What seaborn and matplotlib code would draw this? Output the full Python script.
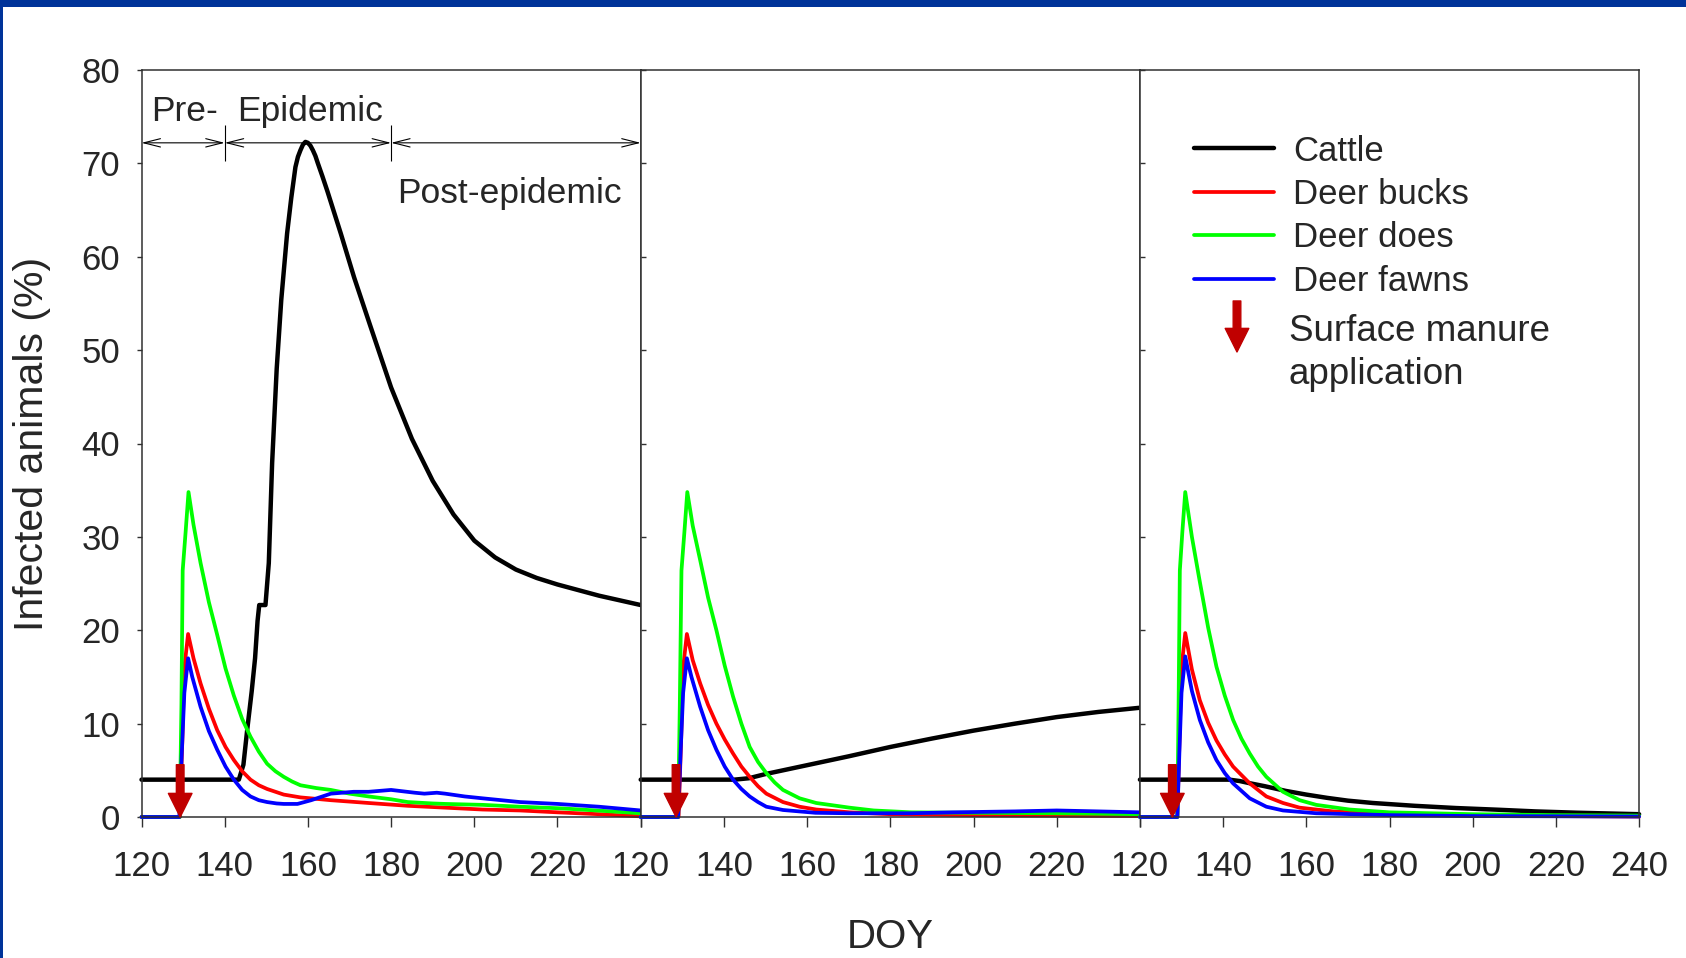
import matplotlib
matplotlib.use("Agg")
import matplotlib.pyplot as plt
from matplotlib.patches import Rectangle
import seaborn as sns

# ---- values: day of year vs % infected ----
# panel 1
cattle_1_doy = [120, 143.4, 144.5, 145.4, 146.5, 147.3, 147.9, 148.3, 149.8, 150.6, 151.4, 152.5, 153.6,
                155.0, 156.0, 157.0, 157.6, 158.2, 158.8, 159.4, 160.0, 160.6, 161.2, 161.8, 162.4,
                163.5, 164.7, 167.9, 171.1, 175, 180, 185, 190, 195, 200, 205, 210, 215, 220, 225, 230,
                235, 240]
cattle_1 = [4, 4, 5.6, 9.3, 13.5, 17, 21, 22.7, 22.7, 27.2, 37.9, 48, 55.4,
            62.5, 66.3, 69.6, 70.7, 71.4, 72.0, 72.3, 72.2, 71.9, 71.4, 70.8, 70.0,
            68.6, 67.0, 62.5, 57.8, 52.6, 46.0, 40.5, 36.0, 32.4, 29.6, 27.8, 26.5, 25.6, 24.9, 24.3, 23.7,
            23.2, 22.7]
bucks_1_doy = [120, 129.2, 129.8, 130.3, 131.2, 132.5, 134.2, 136.2, 138.2, 140.2, 142.2, 144.2, 146.2,
               148.2, 150.2, 154.2, 158.2, 165.5, 174.6, 184, 193, 202, 211, 220, 230, 240]
bucks_1 = [0, 0, 8, 16, 19.6, 17.0, 14.3, 11.6, 9.3, 7.5, 6.1, 4.9, 4.0,
           3.4, 3.0, 2.4, 2.1, 1.8, 1.5, 1.2, 1.0, 0.8, 0.7, 0.5, 0.3, 0.07]
does_1_doy = [120, 129.2, 129.6, 129.9, 130.6, 131.3, 132.5, 134.2, 136.2, 138.2, 140.2, 142.2, 144.2,
              146.2, 148.2, 150.2, 152.2, 154.2, 156.2, 158.2, 162, 165.5, 170, 174.6, 180, 184,
              190, 193, 202, 211, 220.7, 230, 240]
does_1 = [0, 0, 12, 26.4, 30.5, 34.8, 31.3, 27.2, 23.0, 19.5, 15.9, 13.0, 10.5,
          8.6, 7.0, 5.7, 4.9, 4.3, 3.8, 3.4, 3.1, 2.9, 2.5, 2.2, 1.9, 1.6,
          1.45, 1.4, 1.3, 1.1, 0.93, 0.68, 0.4]
fawns_1_doy = [120, 129.1, 129.7, 130.3, 131.2, 132.2, 134.2, 136.2, 138.2, 140.2, 142.2, 144.2, 146.2,
               148.2, 150.2, 152.5, 154.2, 157.5, 160.8, 165.5, 171, 174.6, 180, 185.7, 188, 191,
               193, 197.7, 202, 211, 220, 230, 240]
fawns_1 = [0, 0, 7, 13.3, 17.0, 15.0, 11.8, 9.2, 7.2, 5.4, 4.0, 2.9, 2.2,
           1.8, 1.6, 1.45, 1.4, 1.4, 1.8, 2.5, 2.7, 2.7, 2.9, 2.6, 2.5, 2.6,
           2.5, 2.2, 2.0, 1.6, 1.4, 1.1, 0.7]

# panel 2
cattle_2_doy = [120, 142.5, 146, 150, 160, 170, 180, 190, 200, 210, 220, 230, 240]
cattle_2 = [4, 4, 4.15, 4.6, 5.55, 6.5, 7.5, 8.4, 9.25, 10.0, 10.7, 11.25, 11.7]
bucks_2_doy = [120, 129.1, 129.7, 130.2, 131.1, 132.5, 134.3, 136.2, 138.2, 140.2, 142.2, 144.2,
               146.2, 148.2, 150.2, 154.2, 158.2, 162.2, 170.2, 180, 200, 220, 240]
bucks_2 = [0, 0, 8, 16, 19.6, 16.8, 14.3, 12.0, 10.0, 8.3, 6.8, 5.4,
           4.3, 3.3, 2.5, 1.6, 1.1, 0.8, 0.5, 0.3, 0.2, 0.15, 0.1]
does_2_doy = [120, 129.0, 129.4, 129.8, 130.5, 131.2, 132.5, 134.3, 136.2, 138.2, 140.2, 142.2, 144.2,
              146.2, 148.2, 150.2, 152.2, 154.2, 158.2, 162.2, 170.2, 176, 185, 200, 220, 240]
does_2 = [0, 0, 12, 26.4, 30.5, 34.8, 31.2, 27.5, 23.5, 20.0, 16.2, 12.9, 10.0,
          7.5, 5.9, 4.7, 3.7, 2.9, 2.0, 1.5, 1.0, 0.7, 0.5, 0.45, 0.4, 0.3]
fawns_2_doy = [120, 129.0, 129.6, 130.2, 131.1, 132.2, 134.3, 136.2, 138.2, 140.2, 142.2, 144.2,
               146.2, 148.2, 150.2, 154.2, 162, 170, 185, 195, 210, 220, 230, 240]
fawns_2 = [0, 0, 7, 13.3, 17.0, 15.0, 11.8, 9.3, 7.2, 5.4, 4.0, 3.0,
           2.2, 1.6, 1.1, 0.75, 0.45, 0.4, 0.4, 0.5, 0.6, 0.7, 0.6, 0.5]

# panel 3
cattle_3_doy = [120, 141.5, 144, 146.6, 150, 155, 160, 165, 170, 176, 186, 196, 206, 215, 225, 240]
cattle_3 = [4, 4, 3.85, 3.6, 3.3, 2.8, 2.4, 2.05, 1.75, 1.5, 1.2, 0.96, 0.78, 0.6, 0.46, 0.3]
bucks_3_doy = [120, 129.0, 129.5, 130.0, 130.9, 132.5, 134.4, 136.4, 138.4, 140.4, 142.4, 146.4,
               150.4, 154.4, 158.4, 166.4, 180, 200, 240]
bucks_3 = [0, 0, 8, 16, 19.7, 15.8, 12.5, 10.1, 8.2, 6.7, 5.4, 3.6,
           2.2, 1.5, 1.0, 0.6, 0.3, 0.15, 0.05]
does_3_doy = [120, 129.0, 129.3, 129.6, 130.2, 130.9, 132.5, 134.4, 136.4, 138.4, 140.4, 142.4,
              144.4, 146.4, 148.4, 150.4, 154.4, 158.4, 162.4, 170.4, 180, 200, 220, 240]
does_3 = [0, 0, 12, 26.4, 30.5, 34.8, 30.0, 25.2, 20.3, 16.1, 13.0, 10.4,
          8.4, 6.8, 5.4, 4.3, 2.7, 1.8, 1.3, 0.8, 0.5, 0.3, 0.2, 0.15]
fawns_3_doy = [120, 129.0, 129.5, 130.0, 130.9, 132.5, 134.4, 136.4, 138.4, 140.4, 142.4, 146.4,
               150.4, 154.4, 162.4, 180, 200, 240]
fawns_3 = [0, 0, 7, 13.3, 17.2, 13.5, 10.4, 8.0, 6.1, 4.7, 3.6, 2.0,
           1.1, 0.7, 0.4, 0.2, 0.1, 0.05]

manure_doy = [129.3, 128.5, 127.8]          # surface manure application, per panel
period_bounds = [120, 140, 180, 240]
x_ticks = [120, 140, 160, 180, 200, 220, 240]
y_ticks = [0, 10, 20, 30, 40, 50, 60, 70, 80]
series_names = ["Cattle", "Deer bucks", "Deer does", "Deer fawns"]
series_colors = ["black", "#ff0000", "#00ff00", "#0000ff"]
series_lw = [3.2, 2.7, 2.7, 2.7]

panels = [
    [(cattle_1_doy, cattle_1), (bucks_1_doy, bucks_1), (does_1_doy, does_1), (fawns_1_doy, fawns_1)],
    [(cattle_2_doy, cattle_2), (bucks_2_doy, bucks_2), (does_2_doy, does_2), (fawns_2_doy, fawns_2)],
    [(cattle_3_doy, cattle_3), (bucks_3_doy, bucks_3), (does_3_doy, does_3), (fawns_3_doy, fawns_3)],
]

sns.set_theme(style="ticks")
plt.rcParams["font.family"] = ["Liberation Sans", "DejaVu Sans"]
arrow_red = "#c00000"

W, H = 1686, 958
fig = plt.figure(figsize=(W / 100, H / 100), dpi=100)
fig.patch.set_facecolor("white")

ax_left, ax_w, ax_bot, ax_top = 141.5, 499.2, 817, 70
axes = []
for i in range(3):
    ax = fig.add_axes([(ax_left + i * ax_w) / W, (H - ax_bot) / H, ax_w / W, (ax_bot - ax_top) / H])
    axes.append(ax)

for i, ax in enumerate(axes):
    for (doy, val), name, col, lw in zip(panels[i], series_names, series_colors, series_lw):
        sns.lineplot(x=doy, y=val, ax=ax, color=col, linewidth=lw, estimator=None, sort=False,
                     legend=False, clip_on=False, solid_capstyle="round", solid_joinstyle="round")
    ax.set_xlim(120, 240)
    ax.set_ylim(0, 80)
    ax.set_xlabel("")
    ax.set_ylabel("")
    ax.set_xticks(x_ticks)
    if i < 2:
        ax.set_xticklabels([str(t) for t in x_ticks[:-1]] + [""])
    ax.set_yticks(y_ticks)
    for sp in ax.spines.values():
        sp.set_visible(True)
        sp.set_color("#303030")
        sp.set_linewidth(1.1)
    ax.tick_params(axis="x", direction="out", length=7, width=1.0, color="#303030",
                   labelsize=25, pad=16.5)
    if i == 0:
        ax.tick_params(axis="y", direction="out", length=3.5, width=1.0, color="#303030",
                       labelsize=25, pad=12)
    else:
        ax.tick_params(axis="y", direction="in", length=3.5, width=1.0, color="#303030",
                       labelleft=False)
    ax.grid(False)

    # manure application arrow
    ax.annotate("", xy=(manure_doy[i], 0), xytext=(manure_doy[i], 5.6), xycoords="data",
                arrowprops=dict(arrowstyle="simple,head_length=17,head_width=17,tail_width=5.5",
                                mutation_scale=1, color=arrow_red, shrinkA=0, shrinkB=0),
                zorder=10, annotation_clip=False)

# epidemic phases in first panel
ax1 = axes[0]
for a, b in zip(period_bounds[:-1], period_bounds[1:]):
    ax1.annotate("", xy=(b, 72.2), xytext=(a, 72.2), xycoords="data",
                 arrowprops=dict(arrowstyle="<->,head_length=1.2,head_width=0.3", mutation_scale=10,
                                 color="black", lw=0.8, shrinkA=0, shrinkB=0),
                 annotation_clip=False)
ax1.vlines(period_bounds[1:], 70.3, 74.1, color="black", lw=0.8, clip_on=False)
ax1.text(122.4, 74.55, "Pre-", fontsize=25.5, ha="left", va="baseline")
ax1.text(143.1, 74.55, "Epidemic", fontsize=25.5, ha="left", va="baseline")
ax1.text(181.5, 65.8, "Post-epidemic", fontsize=25.5, ha="left", va="baseline")

# legend in last panel
ax3 = axes[2]
handles = ax3.get_lines()[:4]
ax3.legend(handles, series_names, loc="upper left", bbox_to_anchor=(0.108, 0.9135), frameon=False,
           fontsize=25, handlelength=2.3, handletextpad=0.55, labelspacing=0.30,
           borderpad=0, borderaxespad=0)
ax3.annotate("", xy=(0.1945, 0.6225), xytext=(0.1945, 0.6908), xycoords="axes fraction",
             arrowprops=dict(arrowstyle="simple,head_length=17,head_width=17,tail_width=5.5",
                             mutation_scale=1, color=arrow_red, shrinkA=0, shrinkB=0))
ax3.text(0.2977, 0.621, "Surface manure\napplication", transform=ax3.transAxes, fontsize=26.5,
         ha="left", va="center", linespacing=1.27)

fig.text(32 / W, 1 - 443.5 / H, "Infected animals (%)", rotation=90, fontsize=29.5,
         ha="center", va="center")
fig.text(890 / W, 1 - 937 / H, "DOY", fontsize=29, ha="center", va="center")

# dark blue slide frame (top and left)
frame_blue = "#003399"
fig.add_artist(Rectangle((0, 1 - 7.3 / H), 1, 7.3 / H, transform=fig.transFigure,
                         facecolor=frame_blue, edgecolor="none", zorder=20))
fig.add_artist(Rectangle((0, 0), 3.5 / W, 1, transform=fig.transFigure,
                         facecolor=frame_blue, edgecolor="none", zorder=20))

fig.savefig("out.png", dpi=100)
